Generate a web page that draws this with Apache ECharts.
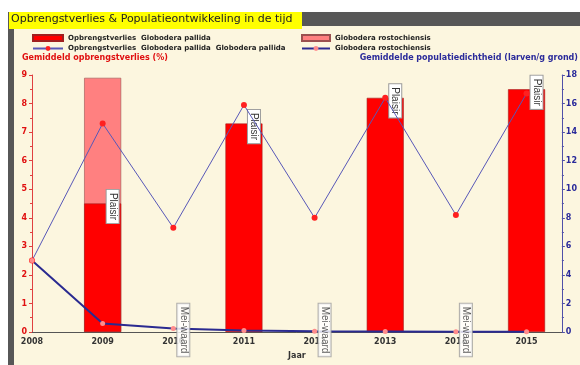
<!DOCTYPE html>
<html>
<head>
<meta charset="utf-8">
<style>
  html, body { margin: 0; padding: 0; background: #ffffff; }
  #chart { width: 580px; height: 365px; }
</style>
<script src="https://cdn.jsdelivr.net/npm/echarts@6/dist/echarts.min.js"></script>
</head>
<body>
<div id="chart"></div>
<script>
// Years on the horizontal axis
var years = [2008, 2009, 2010, 2011, 2012, 2013, 2014, 2015];
// Average yield loss (%) per year; null = no potato crop that year
var pallidaLoss = [null, 4.5, null, 7.3, null, 8.2, null, 8.5];
var rostoLoss = [null, 4.4, null, null, null, null, null, null];
// Average population density (larvae / g soil)
var pallidaDensity = [5.0, 14.6, 7.3, 15.9, 8.0, 16.4, 8.2, 16.7];
var rostoDensity = [5.0, 0.6, 0.25, 0.1, 0.05, 0.03, 0.02, 0.02];
// Crop grown per year (potato variety or in-between crop)
var cropLabels = ['', 'Plaisir', 'Mei-waard', 'Plaisir', 'Mei-waard', 'Plaisir', 'Mei-waard', 'Plaisir'];

var names = {
  pLoss: 'Opbrengstverlies  Globodera pallida',
  pDens: 'Opbrengstverlies  Globodera pallida  Globodera pallida',
  rLoss: 'Globodera rostochiensis',
  rDens: 'Globodera rostochiensis '
};

var FONT = '"DejaVu Sans", Verdana, sans-serif';
var FONT_S = '"Liberation Sans", Arial, sans-serif';

function pairs(vals) {
  return years.map(function (y, i) { return [y, vals[i]]; });
}
var barRed = [], barPink = [], cropPts = [];
years.forEach(function (y, i) {
  if (pallidaLoss[i] != null) {
    barRed.push({ value: [y, pallidaLoss[i]], crop: cropLabels[i] });
    if (rostoLoss[i] != null) barPink.push([y, pallidaLoss[i] + rostoLoss[i]]);
  } else if (cropLabels[i]) {
    cropPts.push({ value: [y, 0], crop: cropLabels[i] });
  }
});

// Rotated crop name in a small white box (offsets are in the rotated frame)
var boxLabel = {
  show: true,
  rotate: -90,
  fontFamily: FONT_S,
  fontSize: 10,
  color: '#333',
  backgroundColor: '#ffffff',
  borderColor: '#9a9a9a',
  borderWidth: 1,
  padding: [1, 3],
  formatter: function (p) { return p.data.crop; }
};

var legendText = { fontFamily: FONT, fontSize: 7, fontWeight: 'bold', color: '#222' };

var chart = echarts.init(document.getElementById('chart'), null, { renderer: 'canvas' });
chart.setOption({
  animation: false,
  backgroundColor: '#ffffff',
  graphic: [
    { type: 'rect', z: -10, silent: true, shape: { x: 8, y: 12, width: 572, height: 353 }, style: { fill: '#fcf6df' } },
    { type: 'rect', z: -9, silent: true, shape: { x: 8, y: 12, width: 572, height: 14 }, style: { fill: '#575757' } },
    { type: 'rect', z: -9, silent: true, shape: { x: 8, y: 12, width: 6, height: 353 }, style: { fill: '#575757' } },
    { type: 'rect', z: -8, silent: true, shape: { x: 9, y: 12, width: 293, height: 17 }, style: { fill: '#ffff00' } },
    { type: 'text', z: 5, left: 11, top: 14, style: { text: 'Opbrengstverlies & Populatieontwikkeling in de tijd', font: '11px ' + FONT, fill: '#222' } },
    { type: 'text', z: 5, left: 22, top: 54, style: { text: 'Gemiddeld opbrengstverlies (%)', font: 'bold 8px ' + FONT, fill: '#e01010' } },
    { type: 'text', z: 5, right: 2, top: 54, style: { text: 'Gemiddelde populatiedichtheid (larven/g grond)', font: 'bold 8px ' + FONT, fill: '#2a2a9a' } }
  ],
  legend: [
    {
      left: 27, top: 29, orient: 'vertical', itemGap: 3, itemWidth: 30, itemHeight: 6,
      data: [{ name: names.pLoss, icon: 'rect' }, { name: names.pDens }],
      textStyle: legendText
    },
    {
      left: 296, top: 29, orient: 'vertical', itemGap: 3, itemWidth: 28, itemHeight: 6,
      data: [{ name: names.rLoss, icon: 'rect' }, { name: names.rDens }],
      textStyle: legendText
    }
  ],
  grid: { left: 32, right: 14, top: 75, bottom: 33 },
  xAxis: {
    type: 'value', min: 2008, max: 2015.5, interval: 1,
    name: 'Jaar', nameLocation: 'middle', nameGap: 20,
    nameTextStyle: { fontFamily: FONT, fontSize: 8, fontWeight: 'bold', color: '#333' },
    axisLine: { lineStyle: { color: '#555', width: 1 } },
    axisTick: { show: false },
    splitLine: { show: false },
    axisLabel: {
      fontFamily: FONT, fontSize: 8, fontWeight: 'bold', color: '#333', margin: 6,
      formatter: function (v) { return Number.isInteger(v) ? String(v) : ''; }
    }
  },
  yAxis: [
    {
      type: 'value', min: 0, max: 9, interval: 1,
      axisLine: { show: true, lineStyle: { color: '#e04040' } },
      axisTick: { show: true, length: 3, lineStyle: { color: '#e04040' } },
      minorTick: { show: true, splitNumber: 2, length: 2, lineStyle: { color: '#e04040' } },
      splitLine: { show: false },
      axisLabel: { fontFamily: FONT, fontSize: 8, fontWeight: 'bold', color: '#e01010', margin: 5 }
    },
    {
      type: 'value', min: 0, max: 18, interval: 2, position: 'right',
      axisLine: { show: true, lineStyle: { color: '#5050a8' } },
      axisTick: { show: true, length: 3, lineStyle: { color: '#5050a8' } },
      minorTick: { show: true, splitNumber: 2, length: 2, lineStyle: { color: '#5050a8' } },
      splitLine: { show: false },
      axisLabel: { fontFamily: FONT, fontSize: 8, fontWeight: 'bold', color: '#2a2a9a', margin: 4 }
    }
  ],
  series: [
    {
      name: names.rLoss, type: 'bar', yAxisIndex: 0, barWidth: 37, barGap: '-100%', z: 1,
      itemStyle: { color: '#ff8080', borderColor: '#9a5050', borderWidth: 0.6 },
      data: barPink
    },
    {
      name: names.pLoss, type: 'bar', yAxisIndex: 0, barWidth: 37, barGap: '-100%', z: 2,
      itemStyle: { color: '#ff0000', borderColor: '#a02020', borderWidth: 0.6 },
      label: Object.assign({}, boxLabel, { position: 'insideTop', offset: [-2, -16] }),
      data: barRed
    },
    {
      name: names.pDens, type: 'line', yAxisIndex: 1, z: 3,
      lineStyle: { color: '#5858b8', width: 1 },
      itemStyle: { color: '#ff2020' },
      symbol: 'circle', symbolSize: 6, showSymbol: true,
      data: pairs(pallidaDensity)
    },
    {
      name: names.rDens, type: 'line', yAxisIndex: 1, z: 3,
      lineStyle: { color: '#2a2a90', width: 2 },
      itemStyle: { color: '#ff8c8c' },
      symbol: 'circle', symbolSize: 5, showSymbol: true,
      data: pairs(rostoDensity)
    },
    {
      name: 'teelt', type: 'scatter', yAxisIndex: 0, z: 6, symbolSize: 0,
      label: Object.assign({}, boxLabel, { position: 'inside', offset: [-2, -10] }),
      data: cropPts
    }
  ]
});
</script>
</body>
</html>
